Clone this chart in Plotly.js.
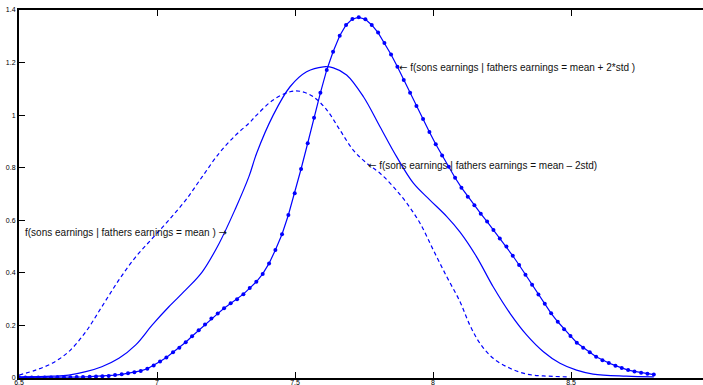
<!DOCTYPE html>
<html>
<head>
<meta charset="utf-8">
<script src="https://cdn.plot.ly/plotly-3.0.1.min.js"></script>
<style>
html,body{margin:0;padding:0;overflow:hidden;background:#fff;}
#plot{width:712px;height:385px;}
</style>
</head>
<body>
<div id="plot"></div>
<script>
// mean + 2*std (with markers), 100 evaluation points
const xPlus = [6.500,6.523,6.546,6.570,6.593,6.616,6.639,6.663,6.686,6.709,6.732,6.756,6.779,6.802,6.825,6.848,6.872,6.895,6.918,6.941,6.965,6.988,7.011,7.034,7.058,7.081,7.104,7.127,7.151,7.174,7.197,7.220,7.243,7.267,7.290,7.313,7.336,7.360,7.383,7.406,7.429,7.453,7.476,7.499,7.522,7.546,7.569,7.592,7.615,7.638,7.662,7.685,7.708,7.731,7.755,7.778,7.801,7.824,7.848,7.871,7.894,7.917,7.940,7.964,7.987,8.010,8.033,8.057,8.080,8.103,8.126,8.150,8.173,8.196,8.219,8.242,8.266,8.289,8.312,8.335,8.359,8.382,8.405,8.428,8.452,8.475,8.498,8.521,8.544,8.568,8.591,8.614,8.637,8.661,8.684,8.707,8.730,8.754,8.777,8.800];
const yPlus = [0.002,0.002,0.002,0.002,0.002,0.002,0.003,0.003,0.003,0.004,0.004,0.005,0.006,0.007,0.008,0.011,0.014,0.018,0.022,0.027,0.035,0.048,0.063,0.078,0.098,0.115,0.136,0.159,0.182,0.204,0.226,0.245,0.265,0.284,0.300,0.319,0.342,0.366,0.396,0.436,0.487,0.547,0.620,0.703,0.795,0.893,0.990,1.085,1.172,1.241,1.302,1.343,1.366,1.372,1.365,1.343,1.314,1.274,1.231,1.184,1.134,1.085,1.035,0.985,0.936,0.889,0.846,0.804,0.762,0.724,0.690,0.657,0.625,0.595,0.563,0.531,0.500,0.465,0.430,0.393,0.355,0.318,0.282,0.246,0.214,0.185,0.160,0.134,0.115,0.098,0.081,0.068,0.057,0.047,0.038,0.030,0.025,0.020,0.016,0.013];

// mean (solid)
const xMean = [6.50,6.62,6.68,6.742,6.80,6.862,6.923,6.983,7.043,7.104,7.164,7.225,7.285,7.333,7.361,7.421,7.482,7.542,7.603,7.639,7.687,7.748,7.808,7.868,7.929,7.989,8.05,8.098,8.158,8.218,8.279,8.339,8.40,8.46,8.52,8.58,8.70,8.80];
const yMean = [0.004,0.007,0.011,0.024,0.043,0.075,0.126,0.202,0.271,0.335,0.404,0.512,0.646,0.766,0.855,1.000,1.108,1.165,1.184,1.180,1.153,1.070,0.956,0.842,0.741,0.677,0.614,0.555,0.461,0.347,0.246,0.164,0.100,0.056,0.030,0.015,0.007,0.004];

// mean - 2std (dashed)
const xMinus = [6.50,6.56,6.62,6.68,6.742,6.80,6.862,6.923,6.983,7.043,7.104,7.164,7.225,7.285,7.333,7.361,7.421,7.482,7.518,7.566,7.615,7.663,7.711,7.760,7.808,7.856,7.905,7.953,8.001,8.05,8.098,8.134,8.170,8.218,8.279,8.339,8.40,8.496];
const yMinus = [0.011,0.030,0.056,0.100,0.176,0.271,0.373,0.461,0.531,0.601,0.677,0.766,0.855,0.924,0.969,1.000,1.058,1.089,1.091,1.070,1.020,0.943,0.867,0.817,0.779,0.728,0.665,0.589,0.487,0.385,0.290,0.200,0.132,0.075,0.037,0.015,0.008,0.004];

const xTicks = [6.5, 7, 7.5, 8, 8.5];
const xTickText = ["6.5","7","7.5","8","8.5"];
const yTicks = [0,0.2,0.4,0.6,0.8,1,1.2,1.4];
const yTickText = ["0","0.2","0.4","0.6","0.8","1","1.2","1.4"];

const arrowL = '<span style="font-family:DejaVu Sans">←</span>';
const arrowR = '<span style="font-family:DejaVu Sans">→</span>';
const labelPlus = arrowL + " f(sons earnings | fathers earnings = mean + 2*std )";
const labelMinus = arrowL + " f(sons earnings | fathers earnings = mean – 2std)";
const labelMean = "f(sons earnings | fathers earnings = mean ) " + arrowR;

const blue = "#0000ff";
const traces = [
  {x: xMinus, y: yMinus, mode: "lines", line: {color: blue, width: 1.2, dash: "4px,3px", shape: "spline"}},
  {x: xMean, y: yMean, mode: "lines", line: {color: blue, width: 1.2, shape: "spline"}},
  {x: xPlus, y: yPlus, mode: "lines+markers", line: {color: blue, width: 1.2}, marker: {color: blue, size: 4}}
];

const font = {family: "Liberation Sans, Arial, sans-serif", size: 10, color: "#111"};
const tickfont = {family: "Liberation Sans, Arial, sans-serif", size: 7, color: "#000"};
const layout = {
  width: 712, height: 385,
  margin: {l: 19, r: 3, t: 10, b: 7},
  paper_bgcolor: "#fff", plot_bgcolor: "#fff",
  showlegend: false,
  xaxis: {
    range: [6.5, 9], tickvals: xTicks, ticktext: xTickText,
    ticks: "inside", ticklen: 6, tickcolor: "#000", tickwidth: 1,
    showline: true, linecolor: "#000", linewidth: 2, mirror: "ticks",
    showgrid: false, zeroline: false, ticklabelstandoff: -3,
    tickfont: tickfont
  },
  yaxis: {
    range: [0, 1.4], tickvals: yTicks, ticktext: yTickText,
    ticks: "inside", ticklen: 6, tickcolor: "#000", tickwidth: 1,
    showline: true, linecolor: "#000", linewidth: 2, mirror: "ticks",
    showgrid: false, zeroline: false,
    tickfont: tickfont
  },
  annotations: [
    {x: 7.868, y: 1.183, xref: "x", yref: "y", text: labelPlus, showarrow: false, xanchor: "left", yanchor: "middle", font: font},
    {x: 7.757, y: 0.81, xref: "x", yref: "y", text: labelMinus, showarrow: false, xanchor: "left", yanchor: "middle", font: font},
    {x: 7.26, y: 0.552, xref: "x", yref: "y", text: labelMean, showarrow: false, xanchor: "right", yanchor: "middle", font: font}
  ]
};

Plotly.newPlot("plot", traces, layout, {displayModeBar: false, staticPlot: true});
</script>
</body>
</html>
